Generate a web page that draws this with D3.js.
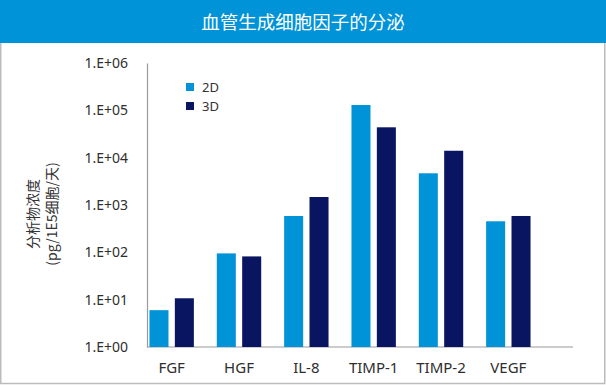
<!DOCTYPE html>
<html>
<head>
<meta charset="utf-8">
<script src="https://cdn.jsdelivr.net/npm/d3@7"></script>
<style>
  body { margin: 0; background: #fff; }
  text { font-family: "Noto Sans", "Noto Sans CJK SC", sans-serif; fill: #333; }
  .cjk { font-family: "Noto Sans CJK SC", "Noto Sans", sans-serif; }
</style>
</head>
<body>
<div id="chart"></div>
<script>
const categories = ['FGF', 'HGF', 'IL-8', 'TIMP-1', 'TIMP-2', 'VEGF'];
const seriesNames = ['2D', '3D'];
const values2D = [6.0, 95, 586, 129700, 4680, 453];
const values3D = [10.7, 82, 1475, 43800, 14000, 586];
const yTicks = [1, 10, 100, 1e3, 1e4, 1e5, 1e6];
const yTickLabels = ['1.E+00', '1.E+01', '1.E+02', '1.E+03', '1.E+04', '1.E+05', '1.E+06'];
const title = '血管生成细胞因子的分泌';
const yTitle = ['分析物浓度', '(pg/1E5细胞/天)'];

const width = 606;
const height = 385;
const colors = { '2D': '#0093d8', '3D': '#0a1562' };
const axisLeftX = 147;
const axisRightX = 573;

const series = seriesNames.map(name => ({
  name,
  values: name === '2D' ? values2D : values3D,
}));

const svg = d3.select('#chart')
  .append('svg')
  .attr('width', width)
  .attr('height', height);

// frame + title bar
svg.append('rect')
  .attr('x', 0.75)
  .attr('y', 40)
  .attr('width', width - 2)
  .attr('height', height - 41.5)
  .attr('fill', '#fff')
  .attr('stroke', '#bcbcbc')
  .attr('stroke-width', 1.5);

svg.append('rect')
  .attr('x', 0)
  .attr('y', 0)
  .attr('width', width)
  .attr('height', 43)
  .attr('fill', '#0093d8');

svg.append('text')
  .attr('class', 'cjk')
  .attr('x', width / 2)
  .attr('y', 29)
  .attr('text-anchor', 'middle')
  .style('font-size', '18.5px')
  .style('fill', '#fff')
  .text(title);

const y = d3.scaleLog()
  .domain([1, 1e6])
  .range([347, 63]);

const x = d3.scaleBand()
  .domain(categories)
  .range([138, 542]);

const xInner = d3.scaleBand()
  .domain(seriesNames)
  .range([-22.2, 22.2])
  .paddingInner(0.25);

// y axis
const yAxis = svg.append('g')
  .attr('transform', `translate(${axisLeftX},0)`)
  .call(d3.axisLeft(y)
    .tickValues(yTicks)
    .tickFormat((d, i) => yTickLabels[i])
    .tickSize(0)
    .tickPadding(19));
yAxis.select('.domain').attr('stroke', '#9a9a9a').attr('stroke-width', 1.2);
yAxis.selectAll('text')
  .style('font-size', '14px')
  .style('font-family', '"Noto Sans", sans-serif')
  .style('fill', '#2e2e2e');

// x axis
const xAxis = svg.append('g')
  .attr('transform', `translate(0,${y(1)})`)
  .call(d3.axisBottom(x).tickSize(0).tickPadding(15));
xAxis.select('.domain').remove();
xAxis.selectAll('text')
  .style('font-size', '15px')
  .style('font-family', '"Noto Sans", sans-serif')
  .style('fill', '#2e2e2e');

svg.append('line')
  .attr('x1', axisLeftX)
  .attr('x2', axisRightX)
  .attr('y1', y(1))
  .attr('y2', y(1))
  .attr('stroke', '#9a9a9a')
  .attr('stroke-width', 1.2);

// bars
const groups = svg.append('g')
  .selectAll('g')
  .data(series)
  .join('g')
  .attr('fill', d => colors[d.name]);

groups.selectAll('rect')
  .data(d => d.values.map((v, i) => ({ name: d.name, cat: categories[i], value: v })))
  .join('rect')
  .attr('x', d => x(d.cat) + x.bandwidth() / 2 + xInner(d.name))
  .attr('width', xInner.bandwidth())
  .attr('y', d => y(d.value))
  .attr('height', d => y(1) - y(d.value));

// legend
const legend = svg.append('g')
  .selectAll('g')
  .data(seriesNames)
  .join('g')
  .attr('transform', (d, i) => `translate(186,${83 + i * 19})`);

legend.append('rect')
  .attr('width', 8)
  .attr('height', 8)
  .attr('fill', d => colors[d]);

legend.append('text')
  .attr('x', 16)
  .attr('y', 8.5)
  .style('font-size', '13px')
  .text(d => d);

// y axis title
const yTitleText = svg.append('text')
  .attr('class', 'cjk')
  .attr('transform', 'translate(0,214) rotate(-90)')
  .attr('text-anchor', 'middle')
  .style('font-size', '14px');

yTitleText.selectAll('tspan')
  .data(yTitle)
  .join('tspan')
  .attr('x', 0)
  .attr('y', (d, i) => 38 + i * 19)
  .text(d => d);
</script>
</body>
</html>
